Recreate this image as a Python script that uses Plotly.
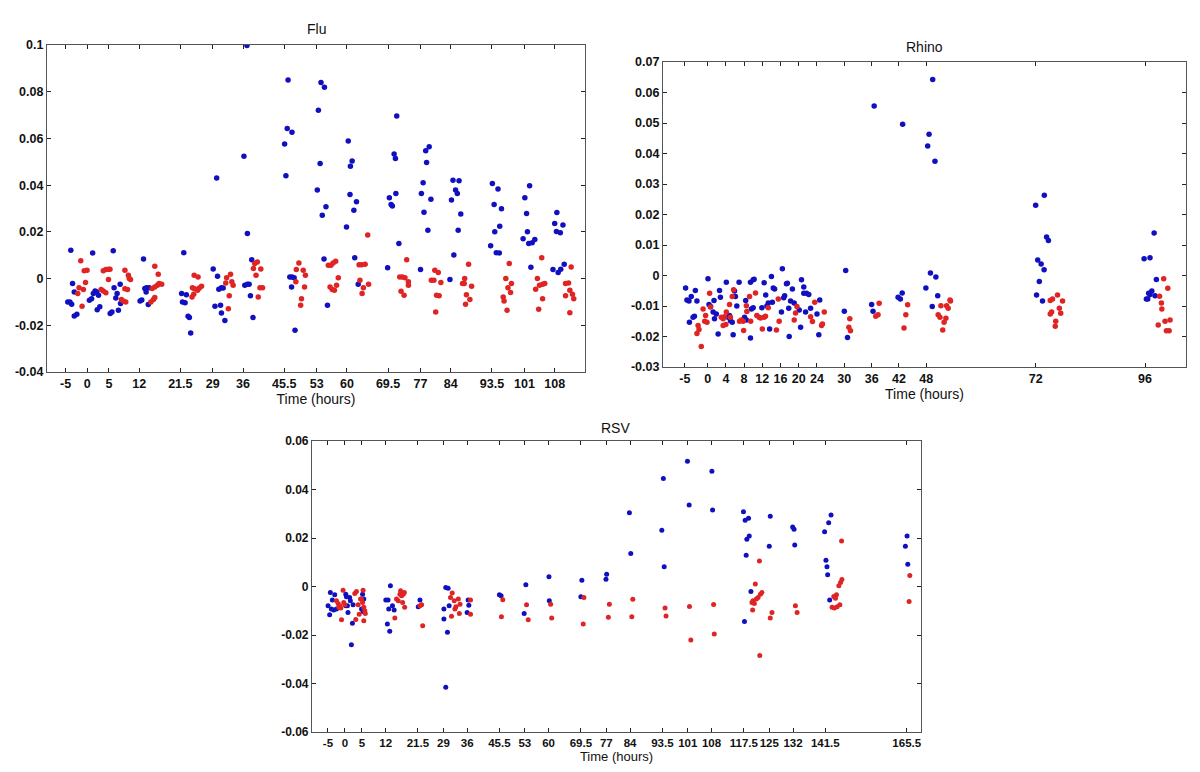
import plotly.graph_objects as go

# ---------------- Flu ----------------
flu_blue_t = [-3.8, -3.4, -3.0, -4.5, -4.0, -3.6, -3.0, -2.4, 0.5, 1.0, 1.25, 1.4, 1.8, 2.2, 2.6, 2.3, 2.9,
              6.0, 6.2, 5.3, 5.7, 6.6, 6.9, 7.2, 7.6, 7.7, 12.2, 12.6, 13.0, 13.3, 13.6, 13.7, 14.3, 14.1,
              22.3, 21.8, 22.9, 22.0, 22.6, 23.3, 23.6, 23.9, 29.1, 29.9, 30.1, 30.4, 31.0, 31.4, 29.5, 30.8, 31.0, 31.8,
              36.9, 36.2, 37.0, 36.4, 37.0, 37.4, 38.0, 37.7, 38.3, 45.6, 45.9, 46.2, 47.3, 46.4, 46.8, 47.3, 47.8, 47.2, 48.0,
              53.4, 54.0, 54.8, 53.8, 53.15, 54.3, 55.15, 54.7, 55.5, 60.3, 60.8, 61.2, 60.7, 61.6, 62.2, 59.9, 61.8, 62.6,
              71.5, 70.9, 71.2, 71.3, 69.8, 70.2, 70.5, 72.0, 69.4, 78.4, 78.2, 79.0, 77.6, 77.2, 79.4, 77.8, 78.7, 77.0,
              84.5, 85.9, 85.1, 85.5, 84.15, 86.3, 85.7, 84.7, 83.8, 93.6, 94.9, 94.0, 95.7, 94.15, 95.3, 93.2, 94.5, 95.2,
              102.2, 101.1, 101.5, 101.7, 100.7, 102.0, 102.8, 103.4, 102.5, 108.5, 108.0, 108.4, 109.3, 109.9, 110.2, 107.6, 108.8, 109.4]
flu_blue_v = [0.0121, -0.0021, -0.0057, -0.0100, -0.0100, -0.0110, -0.0160, -0.0153, -0.0093, -0.0086, 0.0110, -0.0064, -0.0053, -0.0057, -0.0071, -0.0133, -0.0121,
              0.0119, -0.0039, -0.0150, -0.0143, -0.0083, -0.0064, -0.0136, -0.0024, -0.0107, -0.0096, -0.0092, 0.0084, -0.0043, -0.0057, -0.0039, -0.0039, -0.0111,
              0.0111, -0.0064, -0.0069, -0.0100, -0.0104, -0.0161, -0.0167, -0.0233, 0.0041, 0.0431, 0.0010, -0.0046, -0.0039, -0.0040, -0.0119, -0.0114, -0.0147, -0.0179,
              0.0998, 0.0524, 0.0193, -0.0029, -0.0024, -0.0024, 0.0081, -0.0074, -0.0167, 0.0576, 0.0440, 0.0643, 0.0626, 0.0850, 0.0007, 0.0007, 0.0004, -0.0036, -0.0221,
              0.0721, 0.0839, 0.0819, 0.0493, 0.0379, 0.0271, 0.0307, 0.0084, -0.0114, 0.0589, 0.0481, 0.0503, 0.0360, 0.0293, 0.0329, 0.0221, 0.0089, -0.0024,
              0.0696, 0.0533, 0.0514, 0.0364, 0.0346, 0.0317, 0.0311, 0.0150, 0.0046, 0.0497, 0.0547, 0.0564, 0.0410, 0.0364, 0.0340, 0.0284, 0.0207, 0.0039,
              0.0421, 0.0419, 0.0379, 0.0364, 0.0336, 0.0276, 0.0207, 0.0101, -0.0004, 0.0407, 0.0383, 0.0317, 0.0299, 0.0200, 0.0224, 0.0141, 0.0111, 0.0110,
              0.0397, 0.0346, 0.0279, 0.0200, 0.0171, 0.0150, 0.0153, 0.0167, 0.0049, 0.0283, 0.0236, 0.0201, 0.0196, 0.0229, 0.0061, 0.0039, 0.0026, 0.0040]
flu_red_t = [-1.5, -1.9, -2.2, -0.9, -1.2, -0.4, -0.7, -0.05, 3.2, 3.7, 4.3, 3.7, 4.3, 4.9, 5.25, 4.9,
             7.9, 8.3, 8.7, 8.7, 9.3, 8.9, 9.5, 9.7, 10.0, 14.7, 15.3, 15.6, 15.0, 15.6, 15.6, 16.2, 16.6, 16.4, 17.2,
             24.7, 25.6, 24.3, 24.8, 24.2, 24.6, 25.5, 25.9, 26.4, 32.2, 33.1, 32.0, 32.8, 32.6, 33.4, 33.7,
             38.7, 39.3, 39.0, 38.4, 40.1, 39.9, 40.5, 39.5, 48.2, 48.3, 48.9, 49.5, 49.3, 49.9, 50.4, 50.2,
             55.7, 56.3, 56.8, 57.4, 56.1, 56.6, 57.1, 57.6, 58.0, 62.8, 63.4, 64.2, 63.0, 63.8, 63.5, 64.8, 65.0,
             72.2, 72.8, 73.4, 73.8, 74.2, 74.2, 72.5, 73.2, 80.3, 81.1, 79.5, 80.1, 81.7, 80.7, 81.3, 80.5,
             88.1, 87.2, 86.7, 87.1, 88.8, 87.6, 88.4, 87.4, 97.5, 96.7, 98.0, 97.2, 97.8, 96.1, 96.3, 97.0,
             105.0, 104.0, 104.5, 105.2, 105.7, 103.6, 105.2, 104.3, 111.8, 110.5, 111.2, 111.5, 110.5, 112.1, 112.4, 111.5]
flu_red_v = [0.0076, -0.0039, -0.0064, -0.0047, -0.0119, -0.0017, 0.0033, 0.0036, -0.0047, 0.0033, 0.0039, -0.0053, -0.0061, 0.0040, 0.0040, -0.0004,
             -0.0090, -0.0096, 0.0036, -0.0044, -0.0047, -0.0100, 0.0014, 0.0000, -0.0004, -0.0100, -0.0090, -0.0081, -0.0043, -0.0036, 0.0053, -0.0029, -0.0021, 0.0019, -0.0024,
             0.0014, 0.0007, -0.0039, -0.0044, -0.0079, -0.0067, -0.0050, -0.0040, -0.0033, 0.0004, 0.0019, -0.0019, -0.0074, -0.0129, -0.0014, -0.0029,
             0.0064, 0.0071, 0.0014, 0.0043, 0.0041, -0.0039, -0.0039, -0.0079, -0.0014, 0.0039, 0.0067, -0.0086, -0.0114, 0.0036, 0.0014, -0.0036,
             0.0057, 0.0057, 0.0067, 0.0074, -0.0036, -0.0047, -0.0050, -0.0029, 0.0004, 0.0059, 0.0059, 0.0061, -0.0007, -0.0039, -0.0064, 0.0187, -0.0024,
             0.0007, 0.0007, 0.0004, 0.0081, -0.0014, -0.0029, -0.0054, -0.0071, 0.0036, 0.0026, -0.0007, -0.0007, -0.0017, -0.0071, -0.0074, -0.0143,
             0.0061, 0.0000, -0.0021, -0.0021, -0.0033, -0.0069, -0.0090, -0.0110, 0.0064, 0.0000, -0.0021, -0.0039, -0.0060, -0.0079, -0.0096, -0.0136,
             0.0089, 0.0000, -0.0029, -0.0024, -0.0021, -0.0046, -0.0086, -0.0131, 0.0050, -0.0021, -0.0019, -0.0050, -0.0074, -0.0067, -0.0086, -0.0146]
flu_xticks = [-5, 0, 5, 12, 21.5, 29, 36, 45.5, 53, 60, 69.5, 77, 84, 93.5, 101, 108]
flu_xlabels = ["-5", "0", "5", "12", "21.5", "29", "36", "45.5", "53", "60", "69.5", "77", "84", "93.5", "101", "108"]
flu_yticks = [-0.04, -0.02, 0, 0.02, 0.04, 0.06, 0.08, 0.1]
flu_ylabels = ["-0.04", "-0.02", "0", "0.02", "0.04", "0.06", "0.08", "0.1"]

# ---------------- Rhino ----------------
rhino_blue_t = [-4.84, -4.55, -4.1, -4.0, -3.6, -3.2, -2.9, -2.7, -2.35, 0.07, 0.3, 0.65, 1.2, 1.5, 1.4, 1.9, 2.3, 2.6, 2.8,
                4.1, 4.5, 4.8, 5.0, 5.4, 5.6, 5.9, 6.1, 6.4, 6.9, 8.1, 8.5, 8.35, 9.4, 10.0, 10.2, 9.4, 9.6, 10.0,
                11.9, 12.4, 12.75, 13.0, 13.3, 13.6, 14.0, 14.4, 14.7, 14.2, 16.4, 16.2, 16.7, 16.9, 17.3, 17.5, 17.8, 17.9, 18.2, 18.6,
                19.0, 20.1, 20.4, 20.6, 21.1, 21.1, 21.7, 22.2, 21.5, 22.6, 24.0, 24.6, 24.4, 30.3, 30.0, 30.7,
                36.55, 36.0, 36.3, 42.8, 41.8, 42.3, 42.7, 49.4, 48.6, 48.3, 49.9, 48.9, 50.1, 47.9, 50.5, 49.3,
                72.0, 73.9, 74.4, 74.8, 72.45, 73.2, 73.85, 72.8, 72.2, 73.5, 98.0, 95.8, 97.1, 98.5, 96.3, 96.6, 96.8, 97.5, 98.2, 97.1]
rhino_blue_v = [-0.0041, -0.0080, -0.0084, -0.0153, -0.0069, -0.0137, -0.0134, -0.0049, -0.0084, -0.0011, -0.0095, -0.0102, -0.0120, -0.0142, -0.0082, -0.0126, -0.0192, -0.0049, -0.0071,
                -0.0022, -0.0137, -0.0131, -0.0148, -0.0153, -0.0194, -0.0051, -0.0069, -0.0100, -0.0022, -0.0137, -0.0146, -0.0082, -0.0022, -0.0014, -0.0012, -0.0205, -0.0110, -0.0106,
                -0.0106, -0.0024, -0.0064, -0.0100, -0.0090, -0.0175, -0.0003, -0.0041, -0.0044, -0.0088, 0.0022, -0.0120, -0.0073, -0.0066, -0.0027, -0.0025, -0.0107, -0.0200, -0.0084, -0.0044,
                -0.0090, -0.0113, -0.0170, -0.0014, -0.0038, -0.0058, -0.0058, -0.0062, -0.0120, -0.0107, -0.0126, -0.0080, -0.0194, 0.0016, -0.0117, -0.0203,
                0.0556, -0.0095, -0.0117, 0.0496, -0.0071, -0.0077, -0.0057, 0.0643, 0.0463, 0.0425, 0.0375, 0.0008, -0.0005, -0.0041, -0.0066, -0.0102,
                0.0230, 0.0263, 0.0126, 0.0115, 0.0051, 0.0038, 0.0019, -0.0020, -0.0064, -0.0084, 0.0139, 0.0055, 0.0058, -0.0013, -0.0077, -0.0077, -0.0058, -0.0051, -0.0066, -0.0062]
rhino_red_t = [-2.35, -1.9, -2.1, -1.4, -1.0, -0.45, -0.65, -0.15, 0.43, 0.6, 3.0, 3.4, 3.7, 3.4, 4.0, 4.1, 4.8, 5.0, 5.4, 5.7,
               7.0, 7.4, 7.8, 7.9, 8.5, 8.6, 9.2, 9.45, 10.5, 10.8, 11.3, 11.6, 12.0, 12.4, 12.7, 13.3, 15.1, 15.5, 15.7,
               19.0, 19.3, 19.6, 22.6, 23.0, 23.5, 25.0, 25.2, 25.6, 31.2, 31.0, 31.35, 36.9, 37.4, 37.65, 43.9, 43.5, 43.1,
               51.2, 50.6, 51.0, 52.3, 51.9, 51.6, 52.45, 52.8, 53.2, 53.3, 75.2, 75.7, 76.8, 77.9, 77.2, 75.5, 75.2, 77.5, 76.4, 76.3,
               100.1, 101.0, 99.2, 99.6, 99.7, 98.9, 100.4, 101.5, 100.7, 101.3]
rhino_red_v = [-0.0190, -0.0177, -0.0164, -0.0233, -0.0110, -0.0131, -0.0150, -0.0153, -0.0058, -0.0103, -0.0137, -0.0142, -0.0135, -0.0164, -0.0161, -0.0120, -0.0095, -0.0137, -0.0069, -0.0047,
               -0.0150, -0.0146, -0.0150, -0.0180, -0.0099, -0.0118, -0.0069, -0.0150, -0.0057, -0.0131, -0.0137, -0.0139, -0.0175, -0.0137, -0.0134, -0.0106, -0.0179, -0.0077, -0.0150,
               -0.0146, -0.0123, -0.0102, -0.0135, -0.0151, -0.0088, -0.0164, -0.0159, -0.0120, -0.0142, -0.0170, -0.0181, -0.0134, -0.0129, -0.0091, -0.0096, -0.0129, -0.0172,
               -0.0099, -0.0129, -0.0137, -0.0140, -0.0153, -0.0179, -0.0099, -0.0107, -0.0080, -0.0084, -0.0082, -0.0077, -0.0064, -0.0084, -0.0107, -0.0120, -0.0126, -0.0124, -0.0150, -0.0166,
               -0.0011, -0.0042, -0.0068, -0.0090, -0.0110, -0.0162, -0.0150, -0.0146, -0.0181, -0.0181]
rhino_xticks = [-5, 0, 4, 8, 12, 16, 20, 24, 30, 36, 42, 48, 72, 96]
rhino_xlabels = ["-5", "0", "4", "8", "12", "16", "20", "24", "30", "36", "42", "48", "72", "96"]
rhino_yticks = [-0.03, -0.02, -0.01, 0, 0.01, 0.02, 0.03, 0.04, 0.05, 0.06, 0.07]
rhino_ylabels = ["-0.03", "-0.02", "-0.01", "0", "0.01", "0.02", "0.03", "0.04", "0.05", "0.06", "0.07"]

# ---------------- RSV ----------------
rsv_blue_t = [-4.97, -4.5, -4.3, -3.7, -4.0, -3.3, -3.0, -2.5, 0.25, 0.45, 0.25, 0.73, 0.9, 1.4, 1.6, 1.9, 2.2, 2.4, 5.2, 5.55, 4.9, 5.35,
              12.04, 12.7, 12.5, 13.4, 12.9, 13.2, 14.0, 14.5, 21.6, 22.1, 29.15, 29.15, 29.7, 30.4, 29.7, 30.2, 30.7, 36.0, 36.3, 36.5,
              45.5, 46.0, 53.3, 52.8, 60.1, 60.2, 69.8, 69.5, 77.1, 76.9, 83.8, 84.2, 93.8, 93.35, 94.05, 100.9, 101.4, 108.1, 108.3,
              117.4, 117.9, 118.9, 118.4, 119.1, 118.2, 119.6, 117.7, 125.3, 125.0, 131.9, 132.3, 132.5,
              143.2, 142.5, 141.3, 141.7, 142.0, 142.2, 142.8, 165.6, 165.1, 165.8]
rsv_blue_v = [-0.0079, -0.0116, -0.0025, -0.0056, -0.0093, -0.0097, -0.0034, -0.0093, -0.0032, -0.0042, -0.0079, -0.0079, -0.0107, -0.0045, -0.0059, -0.0240, -0.0152, -0.0075, -0.0032, -0.0052, -0.0093, -0.0103,
              -0.0056, -0.0056, -0.0155, 0.0003, -0.0093, -0.0185, -0.0079, -0.0097, -0.0084, -0.0056, -0.0093, -0.0134, -0.0004, -0.0007, -0.0415, -0.0189, -0.0079, -0.0107, -0.0056, -0.0077,
              -0.0034, -0.0038, 0.0007, -0.0111, 0.0040, -0.0059, 0.0026, -0.0042, 0.0051, 0.0030, 0.0304, 0.0136, 0.0445, 0.0232, 0.0081, 0.0516, 0.0336, 0.0475, 0.0315,
              0.0308, 0.0273, 0.0281, 0.0195, 0.0208, 0.0129, -0.0021, -0.0144, 0.0290, 0.0166, 0.0245, 0.0236, 0.0171,
              0.0295, 0.0263, 0.0226, 0.0108, 0.0081, 0.0048, -0.0056, 0.0208, 0.0166, 0.0092]
rsv_red_t = [-2.5, -2.0, -1.5, -1.8, -1.2, -1.0, -0.55, -0.35, 0.0, 2.9, 3.4, 3.2, 3.9, 4.2, 4.6, 4.9, 5.35, 5.2, 5.55, 5.85, 6.0, 5.55,
             14.7, 15.2, 15.7, 16.2, 16.4, 16.7, 17.0, 17.2, 17.5, 17.6, 22.1, 22.6, 22.9,
             31.1, 31.6, 31.4, 32.2, 32.7, 32.4, 33.4, 33.7, 33.9, 37.0, 37.0, 46.5, 46.1, 53.5, 54.0, 60.6, 60.9, 70.4, 70.2,
             77.9, 77.6, 84.8, 84.5, 94.3, 94.6, 101.5, 101.9, 108.6, 108.8,
             122.1, 120.9, 122.85, 122.4, 121.7, 121.2, 119.9, 120.6, 120.2, 120.1, 122.2, 125.8, 125.3, 132.7, 133.2,
             146.3, 146.4, 146.0, 145.5, 144.8, 144.0, 144.5, 143.5, 144.2, 145.0, 145.8, 166.4, 166.2]
rsv_red_v = [-0.0059, -0.0070, -0.0079, -0.0086, -0.0089, -0.0137, -0.0015, -0.0066, -0.0075, -0.0029, -0.0021, -0.0136, -0.0075, -0.0114, -0.0052, -0.0052, -0.0015, -0.0066, -0.0086, -0.0100, -0.0111, -0.0141,
             -0.0130, -0.0052, -0.0059, -0.0032, -0.0018, -0.0038, -0.0066, -0.0032, -0.0025, -0.0086, -0.0079, -0.0075, -0.0162,
             -0.0045, -0.0027, -0.0123, -0.0059, -0.0084, -0.0093, -0.0052, -0.0111, -0.0073, -0.0056, -0.0114, -0.0055, -0.0125, -0.0075, -0.0137, -0.0073, -0.0130, -0.0045, -0.0155,
             -0.0073, -0.0127, -0.0053, -0.0125, -0.0089, -0.0122, -0.0082, -0.0221, -0.0074, -0.0196,
             0.0105, 0.0010, -0.0025, -0.0032, -0.0045, -0.0052, -0.0066, -0.0070, -0.0059, -0.0097, -0.0285, -0.0107, -0.0130, -0.0079, -0.0107,
             0.0188, 0.0029, 0.0016, 0.0003, -0.0034, -0.0041, -0.0048, -0.0086, -0.0089, -0.0084, -0.0075, 0.0045, -0.0062]
rsv_xticks = [-5, 0, 5, 12, 21.5, 29, 36, 45.5, 53, 60, 69.5, 77, 84, 93.5, 101, 108, 117.5, 125, 132, 141.5, 165.5]
rsv_xlabels = ["-5", "0", "5", "12", "21.5", "29", "36", "45.5", "53", "60", "69.5", "77", "84", "93.5", "101", "108", "117.5", "125", "132", "141.5", "165.5"]
rsv_yticks = [-0.06, -0.04, -0.02, 0, 0.02, 0.04, 0.06]
rsv_ylabels = ["-0.06", "-0.04", "-0.02", "0", "0.02", "0.04", "0.06"]

BLUE = "#1010c0"
RED = "#e02424"
FONT = "Liberation Sans"

fig = go.Figure()

def add(tx, vy, color, xa, ya, size):
    fig.add_trace(go.Scatter(x=tx, y=vy, mode="markers", xaxis=xa, yaxis=ya,
                             marker=dict(color=color, size=size, line=dict(width=0)),
                             showlegend=False, hoverinfo="skip"))

add(flu_blue_t, flu_blue_v, BLUE, "x", "y", 5.5)
add(flu_red_t, flu_red_v, RED, "x", "y", 5.5)
add(rhino_blue_t, rhino_blue_v, BLUE, "x2", "y2", 5.5)
add(rhino_red_t, rhino_red_v, RED, "x2", "y2", 5.5)
add(rsv_blue_t, rsv_blue_v, BLUE, "x3", "y3", 5)
add(rsv_red_t, rsv_red_v, RED, "x3", "y3", 5)

# page body has an 8px margin: figure is 1184x756 placed at (8, 8)
OFF = 8
W, H = 1200 - 2 * OFF, 772 - 2 * OFF

def px(x):
    return (x - OFF) / W

def py(y):
    return 1 - (y - OFF) / H

TICKSIZE = 12.5

def xax(dom, anchor, rng, vals, labels, fsize=TICKSIZE, tsize=14):
    return dict(domain=dom, anchor=anchor, range=rng, tickvals=vals, ticktext=labels,
                ticks="inside", ticklen=4, tickcolor="#222", mirror="ticks", automargin=False,
                tickangle=0,
                showline=True, linecolor="#555", linewidth=1.2, showgrid=False, zeroline=False,
                tickfont=dict(family=FONT, size=fsize, color="#111", weight="bold"),
                title=dict(text="Time (hours)", font=dict(family=FONT, size=tsize, color="#111"), standoff=1))

def yax(dom, anchor, rng, vals, labels, fsize=TICKSIZE):
    return dict(domain=dom, anchor=anchor, range=rng, tickvals=vals, ticktext=labels,
                ticks="inside", ticklen=4, tickcolor="#222", mirror="ticks", automargin=False,
                showline=True, linecolor="#555", linewidth=1.2, showgrid=False, zeroline=False,
                tickfont=dict(family=FONT, size=fsize, color="#111", weight="bold"))

def title(text, x, y):
    return dict(text=text, x=px(x), y=py(y), xref="paper", yref="paper", showarrow=False,
                xanchor="center", yanchor="middle", font=dict(family=FONT, size=14, color="#111"))

fig.update_layout(
    width=W, height=H,
    margin=dict(l=0, r=0, t=0, b=0),
    paper_bgcolor="white", plot_bgcolor="white",
    xaxis=xax([px(47), px(585)], "y", [-9.3, 115], flu_xticks, flu_xlabels),
    yaxis=yax([py(372), py(45)], "x", [-0.04, 0.1], flu_yticks, flu_ylabels),
    xaxis2=xax([px(663), px(1186)], "y2", [-9.8, 105], rhino_xticks, rhino_xlabels),
    yaxis2=yax([py(367), py(62)], "x2", [-0.03, 0.07], rhino_yticks, rhino_ylabels),
    xaxis3=xax([px(312), px(921)], "y3", [-9.7, 169.7], rsv_xticks, rsv_xlabels, 11.5, 13),
    yaxis3=yax([py(732), py(441)], "x3", [-0.06, 0.06], rsv_yticks, rsv_ylabels, 12),
    annotations=[
        title("Flu", 316, 29),
        title("Rhino", 924, 47),
        title("RSV", 615, 428),
    ],
)

fig.write_html("out.html")
